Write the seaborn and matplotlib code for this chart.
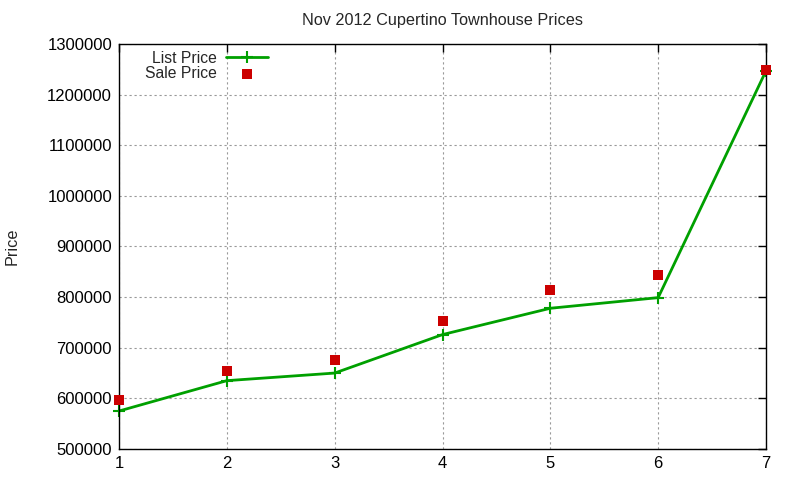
import numpy as np
import pandas as pd
import matplotlib
matplotlib.use("Agg")
import matplotlib.pyplot as plt
import seaborn as sns

# values
units = [1, 2, 3, 4, 5, 6, 7]
list_price = [575000, 635000, 650000, 726000, 778000, 799000, 1247000]
sale_price = [596000, 655000, 675000, 752000, 815000, 844000, 1248000]
y_ticks = [500000, 600000, 700000, 800000, 900000, 1000000, 1100000, 1200000, 1300000]

df = pd.DataFrame({"unit": units, "List Price": list_price, "Sale Price": sale_price})

sns.set_style("white")
plt.rcParams['font.family'] = ['Liberation Sans', 'DejaVu Sans']
plt.rcParams['font.size'] = 9.5

fig = plt.figure(figsize=(8, 4.8), dpi=100)
ax = fig.add_axes([119 / 800, 1 - 449 / 480, (766 - 119) / 800, (449 - 44) / 480])

sns.lineplot(data=df, x="unit", y="List Price", ax=ax, color="#00a000", linewidth=2,
             marker="+", markersize=9, markeredgewidth=1.5, markeredgecolor="#00a000",
             label="List Price", clip_on=False)
sns.scatterplot(data=df, x="unit", y="Sale Price", ax=ax, color="#cc0000", marker="s",
                s=55, linewidth=0, label="Sale Price", zorder=3, clip_on=False)

ax.set_xlim(1, 7)
ax.set_ylim(500000, 1300000)
ax.set_xticks(units)
ax.set_yticks(y_ticks)
ax.ticklabel_format(style="plain", axis="y")
ax.grid(True, linestyle=(0, (2, 2.5)), color="#999999", linewidth=0.8)
ax.tick_params(direction="in", top=True, right=True, length=6, width=1, labelsize=12, colors="black", pad=5)
for s in ax.spines.values():
    s.set_color("black")
    s.set_linewidth(1)

ax.set_title("Nov 2012 Cupertino Townhouse Prices", fontsize=11.7, pad=14)
ax.set_xlabel("")
ax.set_ylabel("Price", fontsize=11.7, labelpad=20)

leg = ax.legend(loc="upper left", markerfirst=False, frameon=False, fontsize=11.3,
                handlelength=2.7, handletextpad=0.6, labelspacing=0.0,
                borderaxespad=0.2, bbox_to_anchor=(0.025, 1.006))

fig.savefig("out.png", dpi=100)
